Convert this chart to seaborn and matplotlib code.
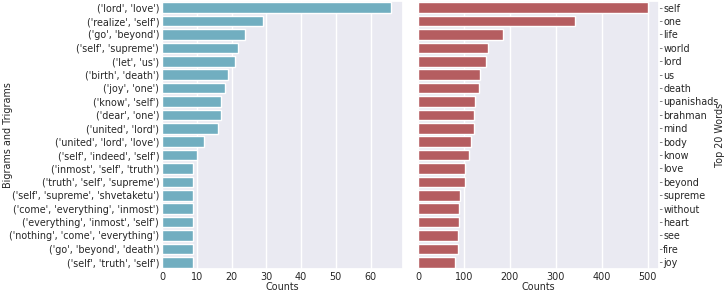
import matplotlib
matplotlib.use("Agg")
import matplotlib.pyplot as plt
import seaborn as sns
import pandas as pd

# n-gram counts (left panel)
ngrams = ["('lord', 'love')", "('realize', 'self')", "('go', 'beyond')",
          "('self', 'supreme')", "('let', 'us')", "('birth', 'death')",
          "('joy', 'one')", "('know', 'self')", "('dear', 'one')",
          "('united', 'lord')", "('united', 'lord', 'love')",
          "('self', 'indeed', 'self')", "('inmost', 'self', 'truth')",
          "('truth', 'self', 'supreme')", "('self', 'supreme', 'shvetaketu')",
          "('come', 'everything', 'inmost')", "('everything', 'inmost', 'self')",
          "('nothing', 'come', 'everything')", "('go', 'beyond', 'death')",
          "('self', 'truth', 'self')"]
ngram_counts = [66, 29, 24, 22, 21, 19, 18, 17, 17, 16, 12, 10, 9, 9, 9, 9, 9, 9, 9, 9]

# top words (right panel)
words = ["self", "one", "life", "world", "lord", "us", "death", "upanishads",
         "brahman", "mind", "body", "know", "love", "beyond", "supreme",
         "without", "heart", "see", "fire", "joy"]
word_counts = [500, 342, 186, 152, 148, 134, 133, 124, 122, 121, 116, 110,
               103, 102, 92, 90, 89, 87, 86, 81]

sns.set_theme(style="darkgrid", color_codes=True)
plt.rcParams["font.family"] = ["DejaVu Sans"]
fs = 6.9

df1 = pd.DataFrame({"ngram": ngrams, "count": ngram_counts})
df2 = pd.DataFrame({"word": words, "count": word_counts})

fig = plt.figure(figsize=(7.27, 2.91), dpi=100)
ax1 = fig.add_axes([0.2228, 0.0756, 0.3315, 0.921])
ax2 = fig.add_axes([0.575, 0.0756, 0.3315, 0.921])

sns.barplot(data=df1, x="count", y="ngram", color="c", ax=ax1)
sns.barplot(data=df2, x="count", y="word", color="r", ax=ax2)

ax1.set_xlabel("Counts", fontsize=fs, labelpad=0)
ax1.set_ylabel("Bigrams and Trigrams", fontsize=fs)
ax1.yaxis.set_label_coords(-0.62, 0.5)
ax1.tick_params(axis="both", labelsize=fs, length=0, pad=2)

ax2.set_xlabel("Counts", fontsize=fs, labelpad=0)
ax2.yaxis.tick_right()
ax2.yaxis.set_label_position("right")
ax2.set_ylabel("Top 20 Words", fontsize=fs)
ax2.yaxis.set_label_coords(1.232, 0.5)
ax2.tick_params(axis="x", labelsize=fs, length=0, pad=2)
ax2.tick_params(axis="y", right=True, labelsize=fs, length=2, width=0.5,
                color=".3", pad=1)

fig.savefig("out.png", dpi=100)
